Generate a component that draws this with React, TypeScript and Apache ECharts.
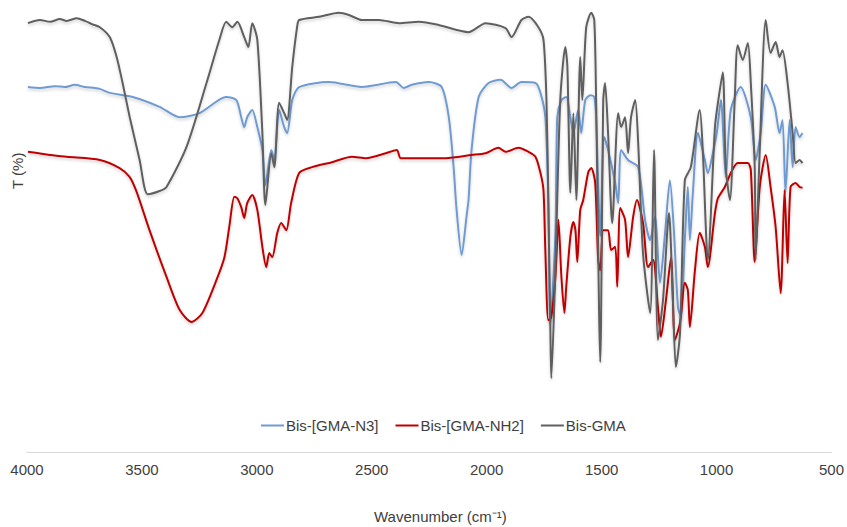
import React, { useEffect, useRef } from "react";
import * as echarts from "echarts";

// Wavenumber ticks (cm-1)
const xTicks = [4000, 3500, 3000, 2500, 2000, 1500, 1000, 500];
const seriesNames = ["Bis-[GMA-N3]", "Bis-[GMA-NH2]", "Bis-GMA"];

// Bis-[GMA-N3]
const n3Wn = [3996, 3944, 3879, 3836, 3792, 3748, 3705, 3683, 3640, 3540, 3423, 3336, 3250, 3133, 3089, 3068, 3055, 3042, 3020, 2998, 2976, 2963, 2937, 2924, 2903, 2881, 2868, 2846, 2816, 2686, 2543, 2395, 2361, 2326, 2252, 2196, 2165, 2144, 2131, 2109, 2087, 2079, 2066, 2035, 1992, 1940, 1892, 1849, 1788, 1766, 1745, 1732, 1723, 1701, 1693, 1675, 1654, 1636, 1623, 1602, 1589, 1571, 1549, 1532, 1524, 1506, 1489, 1472, 1441, 1428, 1415, 1385, 1341, 1311, 1289, 1268, 1246, 1224, 1203, 1185, 1168, 1155, 1138, 1125, 1116, 1103, 1081, 1051, 1038, 1016, 999, 981, 960, 938, 895, 851, 830, 808, 786, 747, 726, 713, 700, 682, 669, 656, 639, 626];
const n3T = [81.1, 80.9, 81.3, 81.1, 81.6, 81.1, 80.9, 80.7, 79.8, 78.9, 76.7, 74.4, 75.3, 78.9, 78.2, 74.4, 72.2, 74.4, 76.0, 72.2, 67.1, 59.3, 67.1, 64.9, 76.0, 72.2, 70.9, 78.2, 81.1, 82.2, 81.1, 82.2, 80.9, 81.6, 82.2, 81.1, 74.4, 63.3, 53.8, 43.8, 52.7, 56.0, 67.1, 78.9, 82.0, 82.7, 80.9, 82.2, 82.0, 79.8, 74.4, 56.0, 28.2, 48.7, 74.4, 78.2, 78.9, 74.4, 70.9, 76.0, 70.9, 78.2, 79.3, 78.9, 74.4, 48.0, 70.0, 67.1, 59.8, 55.3, 67.1, 64.9, 63.3, 51.6, 47.1, 52.2, 37.6, 48.7, 60.4, 48.7, 32.2, 30.0, 47.1, 58.9, 47.1, 57.6, 70.9, 64.9, 62.0, 66.4, 70.9, 78.2, 61.1, 76.0, 81.1, 74.4, 64.9, 70.9, 81.6, 76.7, 70.9, 73.8, 57.6, 73.8, 63.3, 72.2, 70.0, 70.9];

// Bis-[GMA-NH2]
const nh2Wn = [3996, 3900, 3827, 3683, 3597, 3553, 3523, 3467, 3393, 3336, 3284, 3237, 3176, 3141, 3120, 3098, 3085, 3068, 3055, 3042, 3020, 2998, 2976, 2959, 2946, 2933, 2911, 2894, 2872, 2851, 2816, 2760, 2673, 2586, 2525, 2439, 2391, 2374, 2296, 2178, 2066, 2005, 1949, 1918, 1862, 1818, 1788, 1766, 1753, 1745, 1732, 1719, 1701, 1688, 1675, 1662, 1654, 1636, 1623, 1614, 1606, 1593, 1580, 1558, 1545, 1528, 1515, 1506, 1493, 1472, 1459, 1441, 1432, 1419, 1398, 1385, 1363, 1346, 1320, 1298, 1276, 1255, 1242, 1220, 1198, 1181, 1159, 1138, 1125, 1116, 1094, 1073, 1051, 1038, 1007, 994, 964, 938, 908, 864, 851, 834, 812, 786, 765, 743, 721, 704, 691, 678, 656, 639, 626];
const nh2T = [66.7, 66.0, 65.6, 64.9, 63.1, 61.1, 57.8, 49.3, 38.9, 31.6, 28.9, 30.9, 38.2, 43.3, 50.0, 56.7, 56.4, 54.4, 52.0, 55.3, 57.1, 53.8, 45.6, 41.1, 44.2, 43.3, 48.7, 50.9, 49.3, 55.3, 62.0, 63.3, 64.4, 65.6, 65.3, 66.4, 67.1, 65.3, 65.3, 65.3, 66.0, 66.4, 67.6, 66.7, 67.6, 66.7, 65.6, 62.0, 58.2, 44.9, 29.3, 30.0, 38.9, 51.6, 38.9, 30.9, 36.7, 47.8, 51.1, 49.3, 42.2, 53.8, 56.0, 62.2, 63.1, 59.8, 42.7, 40.4, 49.3, 49.3, 44.9, 45.6, 36.7, 54.2, 51.6, 43.3, 52.2, 56.0, 50.9, 41.1, 42.7, 32.2, 25.6, 33.8, 43.3, 24.9, 28.7, 37.6, 36.0, 27.8, 40.4, 48.7, 45.6, 41.1, 53.1, 56.4, 58.9, 62.0, 64.2, 64.2, 62.7, 42.2, 58.9, 66.0, 58.9, 50.0, 35.3, 58.2, 42.0, 58.9, 59.8, 58.9, 58.7];

// Bis-GMA
const gmaWn = [3996, 3944, 3900, 3857, 3827, 3783, 3748, 3718, 3683, 3640, 3610, 3584, 3553, 3510, 3475, 3423, 3393, 3306, 3219, 3163, 3133, 3107, 3085, 3055, 3037, 3020, 2998, 2976, 2963, 2937, 2924, 2903, 2881, 2868, 2846, 2825, 2816, 2729, 2643, 2599, 2543, 2469, 2382, 2296, 2209, 2079, 2005, 1918, 1892, 1849, 1818, 1775, 1753, 1740, 1732, 1723, 1719, 1701, 1680, 1658, 1649, 1636, 1623, 1610, 1593, 1584, 1567, 1545, 1532, 1524, 1506, 1493, 1485, 1472, 1454, 1428, 1415, 1398, 1385, 1372, 1354, 1341, 1320, 1289, 1272, 1255, 1233, 1207, 1190, 1177, 1159, 1138, 1112, 1073, 1060, 1038, 1007, 994, 973, 960, 942, 921, 908, 886, 864, 851, 834, 830, 812, 786, 765, 743, 726, 713, 691, 669, 656, 639, 626];
const gmaT = [95.3, 96.0, 95.6, 96.2, 95.8, 96.4, 95.8, 95.1, 94.4, 92.2, 87.8, 82.0, 74.4, 64.9, 57.3, 58.0, 58.9, 67.8, 82.0, 91.6, 95.6, 94.4, 95.6, 92.2, 90.0, 95.3, 91.6, 70.9, 54.9, 66.4, 63.3, 77.6, 75.3, 73.8, 85.6, 94.4, 96.0, 96.7, 97.6, 97.1, 96.0, 96.0, 95.3, 95.6, 94.9, 93.3, 95.3, 94.2, 92.2, 96.0, 96.7, 94.4, 91.6, 78.2, 56.0, 27.1, 16.4, 41.1, 78.2, 90.0, 85.6, 57.6, 75.3, 56.0, 87.8, 78.2, 94.4, 97.6, 96.0, 78.2, 20.0, 78.2, 82.0, 70.9, 50.9, 75.3, 72.2, 74.4, 66.4, 74.4, 78.2, 68.7, 44.2, 30.9, 67.1, 24.9, 33.8, 53.1, 33.8, 18.9, 26.4, 60.4, 63.3, 76.0, 67.1, 42.7, 72.2, 77.6, 84.4, 63.3, 56.0, 78.2, 90.4, 87.1, 90.9, 82.0, 63.3, 42.7, 67.1, 96.0, 88.7, 91.1, 87.8, 89.3, 82.0, 70.9, 64.2, 64.9, 64.2];

const colors = ["#6f9bd2", "#c00000", "#5f5f5f"];
const FONT = "'Liberation Sans', Arial, sans-serif";

function pairs(wn: number[], t: number[]) {
  return wn.map((w, i) => [w, t[i]]);
}

export default function App() {
  const ref = useRef<HTMLDivElement>(null);
  useEffect(() => {
    if (!ref.current) return;
    const chart = echarts.init(ref.current, undefined, { renderer: "svg" });
    const datasets = [pairs(n3Wn, n3T), pairs(nh2Wn, nh2T), pairs(gmaWn, gmaT)];
    chart.setOption({
      animation: false,
      backgroundColor: "#ffffff",
      grid: { left: 27, right: 13, top: 2, bottom: 75, containLabel: false },
      legend: {
        data: seriesNames,
        left: 256,
        top: 413,
        itemWidth: 23,
        itemHeight: 2,
        itemGap: 17,
        icon: "rect",
        textStyle: { fontFamily: FONT, fontSize: 15, color: "#404040", padding: [0, 0, 0, -3] },
      },
      xAxis: {
        type: "value",
        inverse: true,
        min: 500,
        max: 4000,
        interval: 500,
        axisLine: { show: true, onZero: false, lineStyle: { color: "#d9d9d9", width: 1 } },
        axisTick: { show: false },
        splitLine: { show: false },
        axisLabel: {
          fontFamily: FONT,
          fontSize: 15,
          color: "#404040",
          margin: 10,
          formatter: (v: number) => (xTicks.includes(v) ? String(v) : ""),
        },
      },
      yAxis: {
        type: "value",
        min: 0,
        max: 100,
        show: false,
      },
      graphic: [
        {
          type: "text",
          left: 374,
          top: 509,
          style: {
            text: "Wavenumber (cm⁻¹)",
            fontFamily: FONT,
            fontSize: 15,
            fill: "#404040",
          },
        },
        {
          type: "text",
          x: 10,
          y: 189,
          rotation: Math.PI / 2,
          style: {
            text: "T (%)",
            fontFamily: FONT,
            fontSize: 15,
            fill: "#404040",
          },
        },
      ],
      series: seriesNames.map((name, i) => ({
        name,
        type: "line",
        data: datasets[i],
        showSymbol: false,
        symbol: "none",
        smooth: 0.25,
        color: colors[i],
        lineStyle: {
          width: 2,
          color: colors[i],
          shadowColor: "rgba(0,0,0,0.18)",
          shadowBlur: 3,
          shadowOffsetY: 2,
        },
        z: i + 2,
      })),
    });
    return () => chart.dispose();
  }, []);
  return (
    <div
      ref={ref}
      style={{ position: "absolute", left: 0, top: 0, width: 847, height: 527 }}
    />
  );
}
